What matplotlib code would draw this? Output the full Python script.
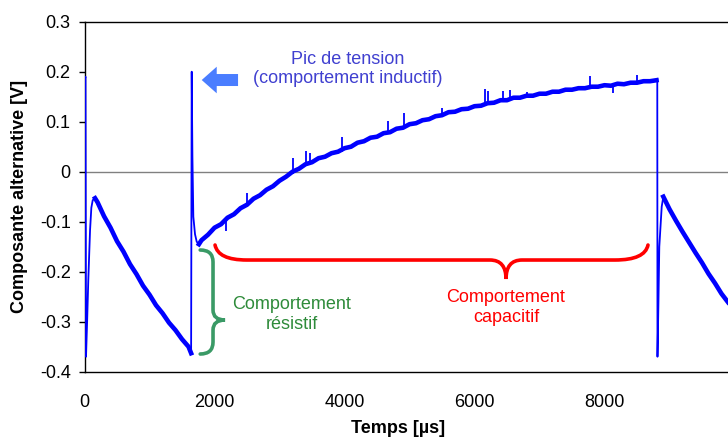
import numpy as np
import matplotlib
matplotlib.use("Agg")
import matplotlib.pyplot as plt
from matplotlib.path import Path
from matplotlib.patches import PathPatch

plt.rcParams['font.family'] = ['Liberation Sans', 'DejaVu Sans']

# --- signal ---
# first drop + recovery (start of the window)
edge0_t = [0, 15, 23, 40, 58, 85, 105, 126, 162]
edge0_v = [0.183, 0.190, -0.370, -0.300, -0.217, -0.117, -0.072, -0.057, -0.053]

# resistive phase 1 (linear-ish decay)
decay1_t = [162, 200, 300, 400, 500, 600, 700, 800, 900, 1000, 1100, 1200,
            1300, 1400, 1500, 1600, 1640]
decay1_v = [-0.053, -0.061, -0.089, -0.112, -0.139, -0.160, -0.185, -0.205,
            -0.228, -0.246, -0.267, -0.283, -0.302, -0.317, -0.335, -0.350, -0.363]

# voltage peak (inductive) then fall to the minimum
spike_t = [1640, 1649, 1660, 1674, 1700, 1726, 1760]
spike_v = [-0.363, 0.200, 0.030, -0.090, -0.125, -0.140, -0.145]

# capacitive charging
charge_t = [1760, 1800, 1900, 2000, 2100, 2200, 2300, 2400, 2500, 2600, 2700,
            2800, 2900, 3000, 3100, 3200, 3300, 3400, 3500, 3600, 3700, 3800,
            3900, 4000, 4100, 4200, 4300, 4400, 4500, 4600, 4700, 4800, 4900,
            5000, 5100, 5200, 5300, 5400, 5500, 5600, 5700, 5800, 5900, 6000,
            6100, 6200, 6300, 6400, 6500, 6600, 6700, 6800, 6900, 7000, 7100,
            7200, 7300, 7400, 7500, 7600, 7700, 7800, 7900, 8000, 8100, 8200,
            8300, 8400, 8500, 8600, 8700, 8800]
charge_v = [-0.145, -0.137, -0.126, -0.112, -0.105, -0.092, -0.085, -0.073,
            -0.066, -0.054, -0.047, -0.036, -0.029, -0.018, -0.010, 0.000,
            0.006, 0.015, 0.019, 0.027, 0.030, 0.037, 0.040, 0.047, 0.050,
            0.058, 0.061, 0.068, 0.070, 0.077, 0.079, 0.086, 0.088, 0.095,
            0.097, 0.103, 0.105, 0.111, 0.113, 0.119, 0.120, 0.125, 0.126,
            0.131, 0.132, 0.137, 0.138, 0.143, 0.143, 0.148, 0.148, 0.152,
            0.152, 0.156, 0.156, 0.160, 0.160, 0.164, 0.164, 0.167, 0.167,
            0.170, 0.170, 0.173, 0.172, 0.176, 0.175, 0.178, 0.178, 0.181,
            0.181, 0.183]

# second drop + recovery
edge1_t = [8800, 8812, 8815, 8830, 8843, 8880, 8905]
edge1_v = [0.183, 0.186, -0.370, -0.260, -0.150, -0.070, -0.050]

# resistive phase 2
decay2_t = [8905, 9000, 9100, 9200, 9300, 9400, 9500, 9600, 9700, 9800, 9900]
decay2_v = [-0.050, -0.075, -0.098, -0.120, -0.141, -0.162, -0.182, -0.204,
            -0.223, -0.244, -0.261]

# isolated noise spikes on the trace
noise_t = [2177, 2495, 3213, 3408, 3469, 3957, 4674, 4915, 5495, 6162, 6213,
           6443, 6546, 6803, 7777, 8135, 8495]
noise_lo = [-0.118, -0.066, -0.004, 0.012, 0.017, 0.040, 0.078, 0.088, 0.113,
            0.133, 0.134, 0.141, 0.144, 0.149, 0.166, 0.158, 0.178]
noise_hi = [-0.098, -0.043, 0.027, 0.042, 0.037, 0.069, 0.101, 0.117, 0.128,
            0.165, 0.162, 0.161, 0.163, 0.160, 0.191, 0.172, 0.193]

x_ticks = [0, 2000, 4000, 6000, 8000]
y_ticks = [-0.4, -0.3, -0.2, -0.1, 0, 0.1, 0.2, 0.3]
y_ticklabels = ['-0.4', '-0.3', '-0.2', '-0.1', '0', '0.1', '0.2', '0.3']

blue = '#0000FF'

fig = plt.figure(figsize=(7.28, 4.37), dpi=100)
ax = fig.add_axes([0.1161, 0.1494, 0.8839, 0.8009])

ax.axhline(0, color='#808080', lw=1.0, zorder=1)

# full trace thin, slow phases thick (noise band)
full_t = edge0_t + decay1_t + spike_t + charge_t + edge1_t + decay2_t
full_v = edge0_v + decay1_v + spike_v + charge_v + edge1_v + decay2_v
ax.plot(full_t, full_v, color=blue, lw=1.3, zorder=3)
for tt, vv in [(decay1_t, decay1_v), (charge_t, charge_v), (decay2_t, decay2_v)]:
    ax.plot(tt, vv, color=blue, lw=3.3, zorder=3, solid_joinstyle='round')
ax.vlines(noise_t, noise_lo, noise_hi, color=blue, lw=1.3, zorder=3)

ax.set_xlim(0, 9900)
ax.set_ylim(-0.4, 0.3)
ax.set_xticks(x_ticks)
ax.set_yticks(y_ticks)
ax.set_yticklabels(y_ticklabels)
ax.tick_params(axis='x', length=0, pad=16, labelsize=13)
ax.tick_params(axis='y', direction='out', length=4, width=1, pad=6, labelsize=13)
for s in ['left', 'top', 'bottom']:
    ax.spines[s].set_linewidth(1.0)
ax.spines['right'].set_visible(False)

ax.set_ylabel('Composante alternative [V]', fontsize=13, fontweight='bold', va='center')
ax.yaxis.set_label_coords(-0.1003, 0.5)
ax.set_xlabel('Temps [µs]', fontsize=13, fontweight='bold', va='center')
ax.xaxis.set_label_coords(0.487, -0.161)

# --- annotations ---
ax.fill([1803, 2034, 2034, 2362, 2362, 2034, 2034],
        [0.1834, 0.2100, 0.1954, 0.1954, 0.1714, 0.1714, 0.1568],
        color='#4A7DFF', lw=0, zorder=4)
ax.text(4050, 0.2054, 'Pic de tension\n(comportement inductif)', color='#4040D0',
        fontsize=13, ha='center', va='center', multialignment='center')

M, L, C = Path.MOVETO, Path.LINETO, Path.CURVE3
green_brace = Path(
    [(1780, -0.1566), (1977, -0.1566), (1977, -0.1806), (1977, -0.2766),
     (1977, -0.2966), (2162, -0.2966), (1977, -0.2966), (1977, -0.3166),
     (1977, -0.3406), (1977, -0.3646), (1780, -0.3646)],
    [M, C, C, L, C, C, C, C, L, C, C])
ax.add_patch(PathPatch(green_brace, fill=False, ec='#3A9A66', lw=2.6,
                       capstyle='round', zorder=4))
ax.text(3188, -0.286, 'Comportement\nrésistif', color='#2E8B3A', fontsize=13,
        ha='center', va='center', multialignment='center')

red_brace = Path(
    [(2008, -0.1466), (2054, -0.1766), (2495, -0.1766), (6238, -0.1766),
     (6485, -0.1766), (6485, -0.2146), (6485, -0.1766), (6731, -0.1766),
     (8162, -0.1766), (8623, -0.1766), (8669, -0.1466)],
    [M, C, C, L, C, C, C, C, L, C, C])
ax.add_patch(PathPatch(red_brace, fill=False, ec='#FF0000', lw=2.6,
                       capstyle='round', zorder=4))
ax.text(6485, -0.271, 'Comportement\ncapacitif', color='#FF0000', fontsize=13,
        ha='center', va='center', multialignment='center')

fig.savefig('out.png', dpi=100)
